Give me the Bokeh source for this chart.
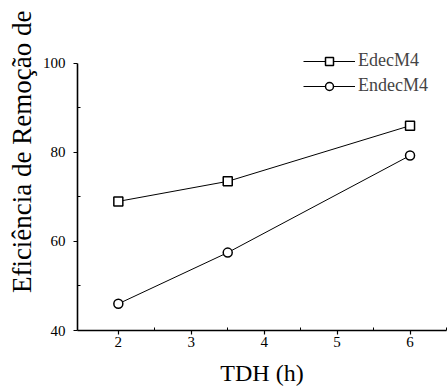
from bokeh.plotting import figure
from bokeh.models import FixedTicker, Legend, LegendItem, Range1d, Title
from bokeh.embed import file_html
from bokeh.resources import INLINE

# data
tdh = [2, 3.5, 6]
edec = [69, 73.5, 86]
endec = [46, 57.5, 79.3]
x_ticks = [2, 3, 4, 5, 6]
x_minor = [2.5, 3.5, 4.5, 5.5, 6.5]
y_ticks = [40, 60, 80, 100]
y_minor = [50, 70, 90]
y_title = "Eficiência de Remoção de"
x_title = "TDH (h)"
names = ["EdecM4", "EndecM4"]

FONT = "'Liberation Serif', 'Times New Roman', serif"

p = figure(width=447, height=389, output_backend="svg", toolbar_location=None,
           x_range=Range1d(1.44, 6.5), y_range=Range1d(40, 113),
           min_border_left=77, min_border_right=1, min_border_top=5, min_border_bottom=59)
p.outline_line_color = None
p.grid.grid_line_color = None
p.background_fill_color = "white"
p.border_fill_color = "white"

for ax, ticks, minor in ((p.xaxis[0], x_ticks, x_minor), (p.yaxis[0], y_ticks, y_minor)):
    ax.ticker = FixedTicker(ticks=ticks, minor_ticks=minor)
    ax.axis_line_color = "black"
    ax.axis_line_width = 1.6
    ax.major_tick_line_color = "black"
    ax.major_tick_line_width = 1.2
    ax.major_tick_out = 4
    ax.major_tick_in = 0
    ax.minor_tick_line_color = "black"
    ax.minor_tick_out = 0
    ax.minor_tick_in = 3
    ax.major_label_text_font = FONT
    ax.major_label_text_font_size = "15px"
    ax.major_label_text_color = "black"
    ax.major_label_standoff = 2

p.yaxis[0].bounds = (40, 100)
p.yaxis[0].major_label_standoff = 8
p.xaxis[0].axis_label = x_title
p.xaxis[0].axis_label_text_font = FONT
p.xaxis[0].axis_label_text_font_size = "24px"
p.xaxis[0].axis_label_text_font_style = "normal"
p.xaxis[0].axis_label_text_color = "black"
p.xaxis[0].axis_label_standoff = 10

r1 = p.line(tdh, edec, line_color="black", line_width=1)
m1 = p.scatter(tdh, edec, marker="square", size=9, fill_color="white",
               line_color="black", line_width=1.5)
r2 = p.line(tdh, endec, line_color="black", line_width=1)
m2 = p.scatter(tdh, endec, marker="circle", size=9, fill_color="white",
               line_color="black", line_width=1.5)

legend = Legend(items=[LegendItem(label=names[0], renderers=[r1, m1]),
                       LegendItem(label=names[1], renderers=[r2, m2])],
                location=(226, 234), padding=0, spacing=4, margin=0,
                glyph_width=52, glyph_height=20, label_height=20, label_standoff=3,
                label_text_font=FONT, label_text_font_size="18px",
                border_line_color=None, background_fill_alpha=0)
p.add_layout(legend)

p.add_layout(Title(text=y_title, align="right", offset=5, standoff=6,
                   text_font=FONT, text_font_size="27px", text_font_style="normal",
                   text_color="black"), "left")

open("out.html", "w").write(file_html(p, INLINE))
